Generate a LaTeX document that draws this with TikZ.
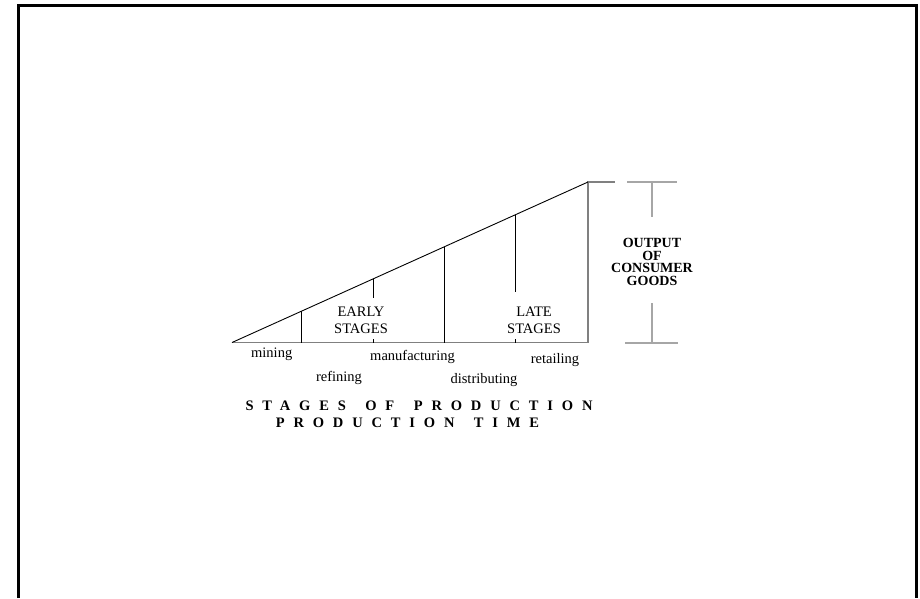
\documentclass[tikz,border=0pt]{standalone}
\usepackage{fontspec}
\setmainfont{Liberation Serif}
\newfontfamily\spacedfont[LetterSpace=61]{Liberation Serif}
\usetikzlibrary{calc,positioning}

\newcommand{\wordgap}{\hspace{7pt}}

\begin{document}
\begin{tikzpicture}[x=1pt,y=-1pt,
  every node/.style={inner sep=0pt,font=\fontsize{14.5}{16.6}\selectfont},
  frame/.style={line width=3pt},
  axis/.style={line width=1.8pt,draw=gray,line join=miter},
  slope/.style={line width=0.9pt,black},
  stage/.style={line width=0.9pt,black},
  bracket/.style={line width=1.1pt,draw=gray!70},
  stagename/.style={anchor=base},
  phase/.style={align=center},
  goods/.style={align=center,font=\fontsize{14}{12.7}\selectfont\bfseries},
  heading/.style={anchor=base,font=\fontsize{14.5}{17}\selectfont\spacedfont\bfseries}
]
\useasboundingbox (0,0) rectangle (920,598);

% ------------------------------------------------------------
% Outer frame (open at the bottom)
% ------------------------------------------------------------
\draw[frame] (18.5,598) -- (18.5,5.5) -- (916.5,5.5) -- (916.5,598);

% ------------------------------------------------------------
% The triangle: time axis, output side and the slope
% ------------------------------------------------------------
\coordinate (o) at (232,342.5);
\coordinate (apex) at (588,182);
\coordinate (foot) at (588,342.5);
\coordinate (cap) at (615,182);
\draw[axis] (o) -- (foot) -- (apex) -- (cap);
\draw[slope] (o) -- (apex);

% stage boundaries, read off the slope
\coordinate (m1) at ($(o)!0.195!(apex)$);
\coordinate (m2) at ($(o)!0.396!(apex)$);
\coordinate (m3) at ($(o)!0.597!(apex)$);
\coordinate (m4) at ($(o)!0.797!(apex)$);
\draw[stage] (m1) -- (m1 |- o);
\draw[stage] (m2) -- ++(0,19);
\draw[stage] (m2 |- o) -- ++(0,-3.5);
\draw[stage] (m3) -- (m3 |- o);
\draw[stage] (m4) -- ++(0,77.5);
\draw[stage] (m4 |- o) -- ++(0,-3.5);

% ------------------------------------------------------------
% Labels inside and under the triangle
% ------------------------------------------------------------
\node[phase] (early) at (361,320.5) {EARLY\\STAGES};
\node[phase] (late) at (534,320.5) {LATE\\STAGES};

\node[stagename] (mining) at (271.7,357.5) {mining};
\node[stagename] (refining) at (339,381) {refining};
\node[stagename] (manuf) at (412.5,360) {manufacturing};
\node[stagename] (distr) at (484,383) {distributing};
\node[stagename] (retail) at (555,363) {retailing};

\node[heading] (title1) at (419,410.5) {STAGES \wordgap OF \wordgap PRODUCTION};
\node[heading] (title2) at (407.5,427) {PRODUCTION \wordgap TIME};

% ------------------------------------------------------------
% Bracket for the output of consumer goods
% ------------------------------------------------------------
\node[goods] (output) at (652,262) {OUTPUT\\OF\\CONSUMER\\GOODS};
\coordinate (btop) at (652,182);
\coordinate (bbot) at (652,343);
\coordinate (bup) at (652,217);
\coordinate (blow) at (652,303);
\draw[bracket] (627,182) -- (677,182);
\draw[bracket] (625,343) -- (678,343);
\draw[bracket] (btop) -- (bup);
\draw[bracket] (blow) -- (bbot);

\end{tikzpicture}
\end{document}
